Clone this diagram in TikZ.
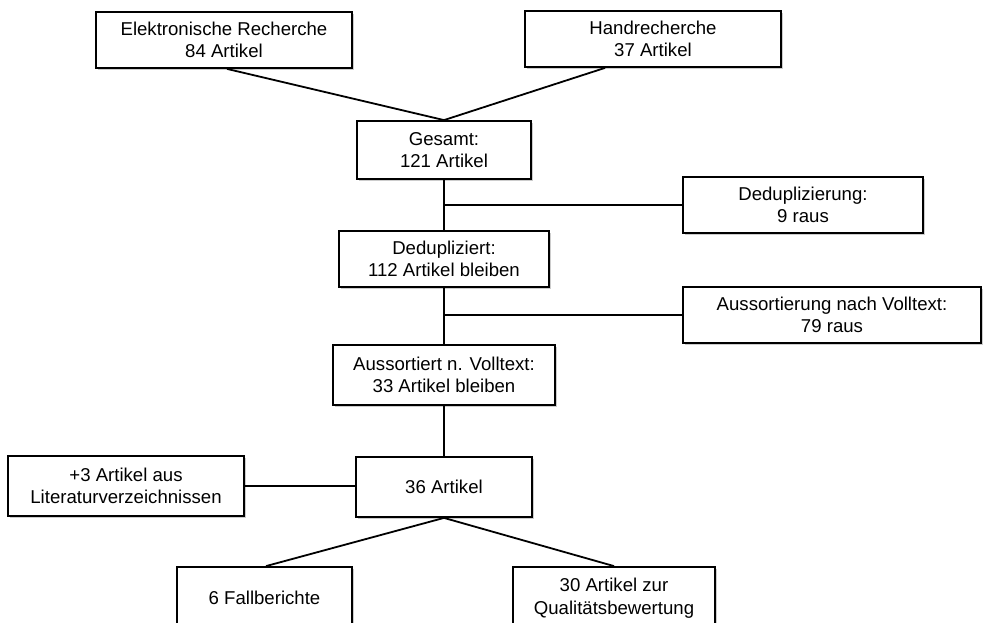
\documentclass[tikz,border=0pt]{standalone}
\usepackage{fontspec}
\setmainfont{Liberation Sans}
\usetikzlibrary{shadows}
\begin{document}
\begin{tikzpicture}[x=1pt,y=-1pt,
  box/.style={draw=black, line width=1.8pt, fill=white, align=center, inner sep=0pt,
    font=\fontsize{18.6}{22.5}\selectfont,
    drop shadow={shadow xshift=2pt, shadow yshift=-2pt, fill=black, opacity=0.2}},
  conn/.style={line width=1.8pt, draw=black}]
\useasboundingbox (0,0) rectangle (983,623);
\fill[white] (0,0) rectangle (983,623);
\node[box, minimum width=256pt, minimum height=56pt] (elek) at (224,40) {Elektronische Recherche\\84 Artikel};
\node[box, minimum width=256pt, minimum height=56pt] (hand) at (653,39) {Handrecherche\\37 Artikel};
\node[box, minimum width=174pt, minimum height=58pt] (ges) at (444,150) {Gesamt:\\121 Artikel};
\node[box, minimum width=240pt, minimum height=56pt] (dedup) at (803,205) {Deduplizierung:\\9 raus};
\node[box, minimum width=210pt, minimum height=56pt] (dedupl) at (444,259) {Dedupliziert:\\112 Artikel bleiben};
\node[box, minimum width=298pt, minimum height=56pt] (aus) at (832,315) {Aussortierung nach Volltext:\\79 raus};
\node[box, minimum width=222pt, minimum height=60pt] (ausd) at (444,375) {Aussortiert n. Volltext:\\33 Artikel bleiben};
\node[box, minimum width=236pt, minimum height=60pt] (plus) at (126,486) {+3 Artikel aus\\Literaturverzeichnissen};
\node[box, minimum width=176pt, minimum height=60pt] (a36) at (444,487) {36 Artikel};
\node[box, minimum width=175pt, minimum height=62pt] (fall) at (264.5,598) {6 Fallberichte};
\node[box, minimum width=202pt, minimum height=62pt] (q30) at (614,598) {30 Artikel zur\\Qualitätsbewertung};
\draw[conn] ([xshift=3pt]elek.south) -- (ges.north);
\draw[conn] ([xshift=-48pt]hand.south) -- (ges.north);
\draw[conn] (ges.south) -- (dedupl.north);
\draw[conn] (dedup.west) -- (dedup.west -| ges.south);
\draw[conn] (dedupl.south) -- (ausd.north);
\draw[conn] (aus.west) -- (aus.west -| dedupl.south);
\draw[conn] (ausd.south) -- (a36.north);
\draw[conn] (plus.east) -- (plus.east -| a36.west);
\draw[conn] (a36.south) -- ([xshift=1.5pt]fall.north);
\draw[conn] (a36.south) -- (q30.north);
\end{tikzpicture}
\end{document}
